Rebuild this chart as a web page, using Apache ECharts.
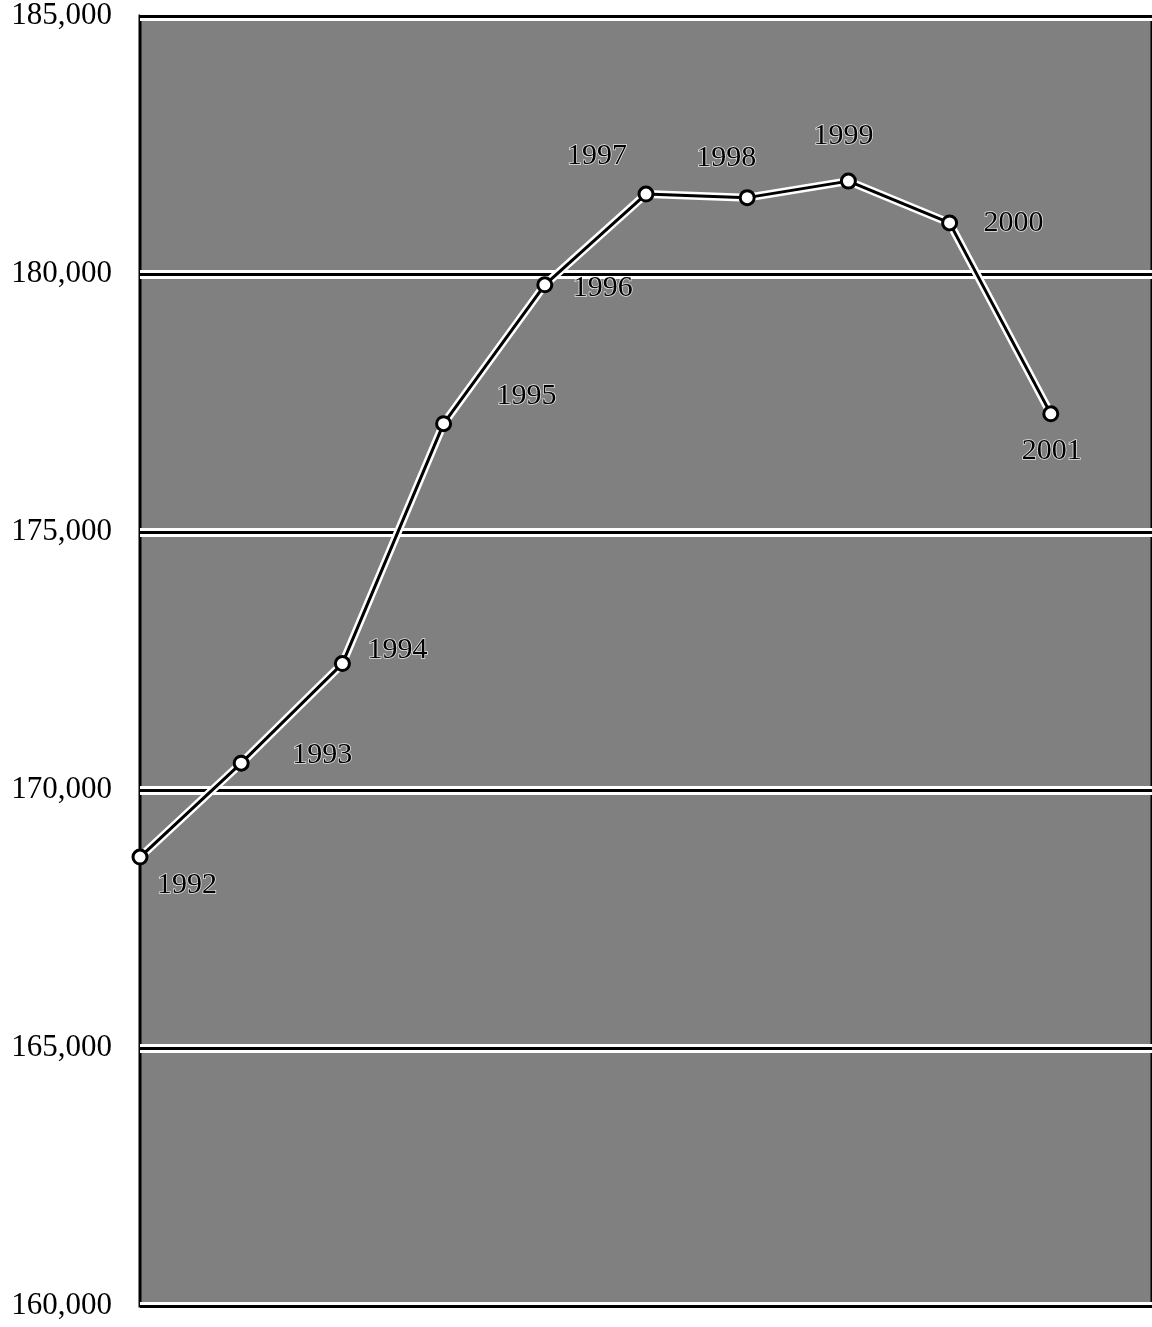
<!DOCTYPE html>
<html><head><meta charset="utf-8">
<script src="https://cdn.jsdelivr.net/npm/echarts@6/dist/echarts.min.js"></script>
<style>html,body{margin:0;padding:0;background:#fff}#c{width:1152px;height:1327px}</style>
</head><body><div id="c"></div>
<script>
const years = [1992,1993,1994,1995,1996,1997,1998,1999,2000,2001];
const values = [168700,170520,172450,177100,179790,181550,181480,181800,180990,177290];
const yTicks = [160000,165000,170000,175000,180000,185000];
// label placement per point: [dx, dy, align]
const labelPlace = [[17,28,'left'],[51,-8,'left'],[25,-13,'left'],[53,-28,'left'],[28,3,'left'],
  [-19,-38,'right'],[-21,-40,'center'],[-5,-45,'center'],[34,0,'left'],[1,37,'center']];

const pts = years.map((y,i)=>({value:[y,values[i]], label:{show:true, formatter:String(y),
  offset:[labelPlace[i][0],labelPlace[i][1]], align:labelPlace[i][2], position:'inside'}}));

const chart = echarts.init(document.getElementById('c'));
const font = '"Liberation Serif", "Times New Roman", serif';
chart.setOption({
  animation:false,
  backgroundColor:'#fff',
  grid:{left:140, right:-5, top:16, bottom:21, show:true, backgroundColor:'#808080', borderColor:'#000', borderWidth:3},
  xAxis:{type:'value', min:1992, max:2002, show:false},
  yAxis:[{type:'value', min:yTicks[0], max:yTicks[yTicks.length-1], interval:5000,
    axisLine:{show:false}, axisTick:{show:false},
    axisLabel:{margin:28, fontFamily:font, fontSize:31, color:'#000',
      formatter:v=>v.toLocaleString('en-US')},
    splitLine:{lineStyle:{color:'#fff', width:9}}},
   {type:'value', min:yTicks[0], max:yTicks[yTicks.length-1], interval:5000, position:'left',
    axisLine:{show:false}, axisTick:{show:false}, axisLabel:{show:false},
    splitLine:{lineStyle:{color:'#000', width:3}}}],
  series:[
    {type:'line', data:years.map((y,i)=>[y,values[i]]), symbol:'none', silent:true,
     lineStyle:{color:'#fff', width:8}, z:2},
    {type:'line', data:pts, symbol:'circle', symbolSize:14,
     itemStyle:{color:'#fff', borderColor:'#000', borderWidth:3},
     lineStyle:{color:'#000', width:3}, z:3,
     label:{fontFamily:font, fontSize:30, color:'#000', textBorderColor:'rgba(255,255,255,0.8)', textBorderWidth:1.5, verticalAlign:'middle'}}
  ]
});
</script></body></html>
